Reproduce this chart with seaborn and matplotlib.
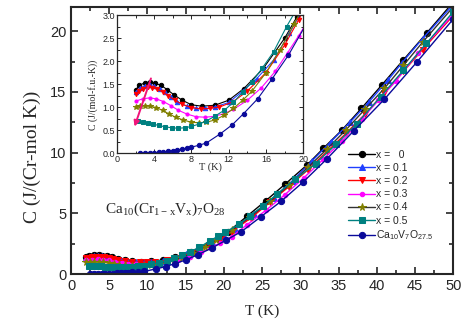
import matplotlib
matplotlib.use('Agg')
import matplotlib.pyplot as plt
import seaborn as sns
from matplotlib.ticker import MultipleLocator

# specific heat data, T in K, C in J/(mol K)
T_x00 = [2.0, 2.4, 3.0, 3.6, 4.1, 4.75, 5.4, 6.1, 7.0, 8.0, 9.1, 10.5, 12.0, 13.6, 15.7, 18.0, 19.3,
         20.5, 23.0, 25.5, 28.0, 30.9, 33.0, 35.5, 38.0, 40.7, 43.5, 46.6, 50.0]
C_x00 = [1.37, 1.47, 1.53, 1.55, 1.52, 1.47, 1.38, 1.27, 1.15, 1.05, 1.02, 1.04, 1.15, 1.40, 1.84, 2.50, 2.96,
         3.45, 4.75, 6.05, 7.40, 9.00, 10.35, 11.90, 13.65, 15.60, 17.65, 19.90, 22.40]

T_x01 = [2.0, 2.5, 3.0, 3.5, 4.0, 4.6, 5.2, 5.8, 6.5, 7.5, 8.5, 9.5, 10.5, 12.0, 13.5, 15.0, 16.8, 18.5,
         20.0, 21.5, 24.0, 26.5, 29.0, 31.5, 34.0, 36.5, 39.0, 41.5, 43.3, 46.0, 50.0]
C_x01 = [1.32, 1.42, 1.46, 1.47, 1.45, 1.40, 1.32, 1.22, 1.12, 1.02, 0.97, 0.97, 1.00, 1.10, 1.35, 1.62, 2.02, 2.60,
         3.15, 3.70, 4.95, 6.30, 7.70, 9.30, 10.90, 12.50, 14.20, 16.00, 17.40, 19.40, 22.20]

T_x02 = [2.0, 2.4, 2.8, 3.3, 3.8, 4.3, 4.9, 5.5, 6.2, 7.0, 8.0, 9.0, 10.0, 11.0, 12.5, 14.0, 16.0, 18.0, 19.5,
         21.0, 23.5, 26.0, 28.5, 31.0, 33.5, 36.0, 38.5, 41.0, 43.5, 46.0, 50.0]
C_x02 = [1.28, 1.35, 1.40, 1.43, 1.42, 1.39, 1.33, 1.25, 1.15, 1.06, 0.99, 0.96, 0.97, 1.00, 1.12, 1.35, 1.75, 2.35, 2.90,
         3.50, 4.60, 5.90, 7.20, 8.60, 10.10, 11.60, 13.20, 14.90, 16.70, 18.50, 21.30]

T_x03 = [2.0, 2.8, 3.5, 4.2, 5.0, 5.8, 6.6, 7.5, 8.5, 9.5, 10.5, 11.5, 12.5, 14.0, 15.5, 17.0, 18.3, 19.5,
         21.0, 23.0, 25.5, 28.0, 30.5, 33.0, 35.5, 38.1, 40.2, 42.5, 45.4, 50.0]
C_x03 = [1.13, 1.18, 1.20, 1.18, 1.12, 1.03, 0.93, 0.85, 0.79, 0.78, 0.80, 0.86, 0.95, 1.15, 1.42, 1.78, 2.18, 2.55,
         3.05, 4.05, 5.25, 6.55, 7.95, 9.45, 11.00, 12.80, 14.30, 15.90, 18.20, 21.40]

T_x04 = [2.0, 2.5, 3.0, 3.6, 4.2, 4.9, 5.6, 6.3, 7.1, 8.0, 8.8, 9.6, 10.5, 11.5, 12.5, 13.5, 14.5, 16.0, 17.5, 19.0,
         21.0, 23.4, 26.0, 28.5, 31.0, 33.5, 36.0, 38.5, 41.0, 43.5, 46.0, 50.0]
C_x04 = [1.00, 1.02, 1.03, 1.02, 0.99, 0.93, 0.85, 0.78, 0.72, 0.67, 0.66, 0.67, 0.72, 0.82, 0.97, 1.15, 1.35, 1.75, 2.25, 2.80,
         3.60, 4.70, 6.00, 7.30, 8.80, 10.30, 11.90, 13.60, 15.30, 17.20, 19.10, 22.00]

T_x05 = [2.3, 2.8, 3.3, 3.9, 4.5, 5.2, 5.9, 6.6, 7.3, 8.0, 8.8, 9.6, 10.5, 11.5, 12.5, 13.5, 14.5, 15.6, 16.8, 18.2, 19.2,
         20.2, 22.0, 23.4, 25.1, 27.0, 29.3, 32.0, 34.7, 37.4, 40.5, 43.5, 46.5, 50.0]
C_x05 = [0.69, 0.68, 0.66, 0.63, 0.60, 0.57, 0.55, 0.54, 0.55, 0.58, 0.63, 0.70, 0.80, 0.93, 1.10, 1.33, 1.55, 1.85, 2.20, 2.75, 3.10,
         3.45, 4.10, 4.80, 5.60, 6.60, 7.80, 9.10, 10.70, 12.40, 14.60, 16.80, 19.00, 21.60]

T_v7 = [2.5, 3.0, 3.5, 4.0, 4.5, 5.0, 5.5, 6.0, 6.5, 7.0, 7.5, 8.0, 8.8, 9.6, 11.1, 12.4, 13.6, 15.1, 16.6, 18.4,
        20.3, 22.3, 24.8, 27.5, 30.4, 33.5, 37.0, 41.0, 45.3, 50.0]
C_v7 = [0.0, 0.0, 0.005, 0.01, 0.015, 0.025, 0.035, 0.05, 0.065, 0.085, 0.105, 0.13, 0.17, 0.22, 0.42, 0.62, 0.86, 1.18, 1.60, 2.13,
        2.80, 3.50, 4.70, 6.00, 7.60, 9.50, 11.80, 14.40, 17.50, 21.00]

labels = ['x =   0', 'x = 0.1', 'x = 0.2', 'x = 0.3', 'x = 0.4', 'x = 0.5', 'Ca$_{10}$V$_7$O$_{27.5}$']
colors = ['black', '#1f3fff', 'red', '#ff00ff', '#808000', '#008080', '#0a0a9a']
line_colors = ['black', '#1f3fff', 'red', '#ff00ff', '#333333', '#008080', '#0a0a9a']
markers = ['o', '^', 'v', 'o', '*', 's', 'o']
msizes = [4.5, 4.5, 4.5, 3.2, 5.5, 4.2, 4.5]
series = [(T_x00, C_x00), (T_x01, C_x01), (T_x02, C_x02), (T_x03, C_x03),
          (T_x04, C_x04), (T_x05, C_x05), (T_v7, C_v7)]

sns.set_style('ticks')
plt.rcParams['font.family'] = ['Liberation Sans', 'DejaVu Sans']
plt.rcParams['mathtext.default'] = 'regular'
serif = ['Liberation Serif', 'DejaVu Serif']

fig = plt.figure(figsize=(4.77, 3.35), dpi=100)
ax = fig.add_axes([0.149, 0.182, 0.801, 0.797])

for (T, C), lab, c, lc, m, ms in zip(series, labels, colors, line_colors, markers, msizes):
    sns.lineplot(x=T, y=C, ax=ax, color=lc, marker=m, markersize=ms, markerfacecolor=c,
                 markeredgecolor=c, linewidth=1.0, label=lab, sort=False)

ax.set_xlim(0, 50)
ax.set_ylim(0, 22)
ax.xaxis.set_major_locator(MultipleLocator(5))
ax.xaxis.set_minor_locator(MultipleLocator(2.5))
ax.yaxis.set_major_locator(MultipleLocator(5))
ax.yaxis.set_minor_locator(MultipleLocator(2.5))
ax.tick_params(which='both', direction='in', top=True, right=True, width=1.2)
ax.tick_params(which='major', length=5, labelsize=10.5)
ax.tick_params(which='minor', length=3)
for s in ax.spines.values():
    s.set_linewidth(1.5)
ax.set_xlabel('T (K)', family=serif, fontsize=11)
ax.set_ylabel('C (J/(Cr-mol K))', family=serif, fontsize=14)
ax.xaxis.set_label_coords(0.5, -0.113)
ax.yaxis.set_label_coords(-0.08, 0.44)
ax.text(0.09, 0.23, 'Ca$_{10}$(Cr$_{1-x}$V$_x$)$_7$O$_{28}$', transform=ax.transAxes,
        family=serif, fontsize=11)

ax.legend(loc='upper left', bbox_to_anchor=(0.725, 0.465), frameon=False, fontsize=7.5,
          handlelength=2.6, handletextpad=0.1, labelspacing=0.3, borderaxespad=0, borderpad=0)

# inset: low temperature region
ins = fig.add_axes([0.245, 0.543, 0.391, 0.412])
for (T, C), c, lc, m, ms in zip(series, colors, line_colors, markers, msizes):
    sns.lineplot(x=T, y=C, ax=ins, color=c, marker=m, markersize=ms * 0.7, markerfacecolor=c,
                 markeredgecolor=c, linewidth=0.8, legend=False, sort=False)
ins.annotate('', xy=(1.8, 0.52), xytext=(3.75, 1.68),
             arrowprops=dict(arrowstyle='-|>', color='#f0147a', lw=1.4, mutation_scale=8))
ins.set_xlim(0, 20)
ins.set_ylim(0, 3)
ins.xaxis.set_major_locator(MultipleLocator(4))
ins.xaxis.set_minor_locator(MultipleLocator(2))
ins.yaxis.set_major_locator(MultipleLocator(0.5))
ins.yaxis.set_minor_locator(MultipleLocator(0.25))
ins.tick_params(which='both', direction='in', top=True, right=True, width=0.7, labelsize=6.5, pad=1.5)
ins.tick_params(which='major', length=3)
ins.tick_params(which='minor', length=1.8)
for s in ins.spines.values():
    s.set_linewidth(0.9)
ins.set_xlabel('T (K)', family=serif, fontsize=7.5, labelpad=-1)
ins.set_ylabel('C (J/(mol-f.u.-K))', family=serif, fontsize=7, labelpad=1)
ins.yaxis.set_label_coords(-0.1, 0.42)

fig.savefig('out.png', dpi=100)
